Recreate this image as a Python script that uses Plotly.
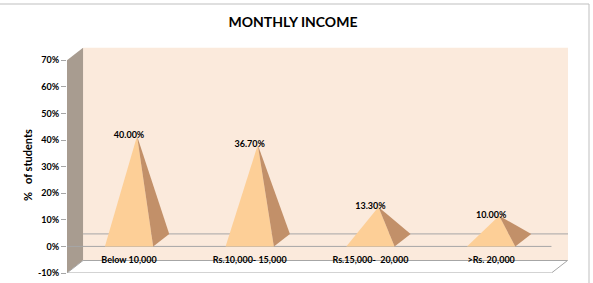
import plotly.graph_objects as go

# ---- data ----
categories = ["Below 10,000", "Rs.10,000- 15,000", "Rs.15,000-\u00a0 20,000", ">Rs. 20,000"]
percent_students = [40.0, 36.7, 13.3, 10.0]
data_labels = ["40.00%", "36.70%", "13.30%", "10.00%"]
y_ticks = [-10, 0, 10, 20, 30, 40, 50, 60, 70]
y_tick_text = ["-10%", "0%", "10%", "20%", "30%", "40%", "50%", "60%", "70%"]

# ---- 3D projection parameters (axis units) ----
DX = 0.133      # depth offset along x (category units)
DY = 4.7        # depth offset along y (% units)
HW = 0.20       # half width of pyramid base
APEX_OFF = 1.5  # apex raise due to perspective
X_LEFT = -0.514
X_FRONT_RIGHT = 3.50
X_RANGE = [X_LEFT, 3.637]
Y_RANGE = [-10, 75]

FRONT_COL = "#FDCF97"
SIDE_COL = "#C29069"
WALL_COL = "#FBEADC"
SIDEWALL_COL = "#A89C90"
LINE_COL = "#A6A6A6"
FONT = "Lato"

fig = go.Figure()

# pyramids
for i, v in enumerate(percent_students):
    ax = i + DX / 2
    ay = v + APEX_OFF
    # front face
    fig.add_trace(go.Scatter(
        x=[i - HW, i + HW, ax, i - HW], y=[0, 0, ay, 0],
        mode="lines", fill="toself", fillcolor=FRONT_COL,
        line=dict(width=0), hoverinfo="skip", showlegend=False))
    # right face
    fig.add_trace(go.Scatter(
        x=[i + HW, i + HW + DX, ax, i + HW], y=[0, DY, ay, 0],
        mode="lines", fill="toself", fillcolor=SIDE_COL,
        line=dict(width=0), hoverinfo="skip", showlegend=False))

# data labels
fig.add_trace(go.Scatter(
    x=list(range(len(categories))), y=percent_students,
    text=[f"<b>{t}</b>" for t in data_labels],
    mode="text", textposition="top center",
    textfont=dict(family=FONT, size=9, color="#000000"),
    hoverinfo="skip", showlegend=False))

# category labels on the floor
fig.add_trace(go.Scatter(
    x=list(range(len(categories))), y=[-10 + DY] * len(categories),
    text=[f"<b>{c}</b>" for c in categories],
    mode="text", textposition="middle center",
    textfont=dict(family=FONT, size=9, color="#000000"),
    hoverinfo="skip", showlegend=False))

shapes = []
# back wall
shapes.append(dict(type="path", xref="x", yref="y", layer="below",
                   path=f"M {X_LEFT+DX},{-10+DY} L {X_RANGE[1]},{-10+DY} L {X_RANGE[1]},{70+DY} L {X_LEFT+DX},{70+DY} Z",
                   fillcolor=WALL_COL, line=dict(width=0)))
# side wall
shapes.append(dict(type="path", xref="x", yref="y", layer="below",
                   path=f"M {X_LEFT},-10 L {X_LEFT},70 L {X_LEFT+DX},{70+DY} L {X_LEFT+DX},{-10+DY} Z",
                   fillcolor=SIDEWALL_COL, line=dict(width=0)))
# floor
shapes.append(dict(type="path", xref="x", yref="y", layer="below",
                   path=f"M {X_LEFT},-10 L {X_FRONT_RIGHT},-10 L {X_FRONT_RIGHT+DX},{-10+DY} L {X_LEFT+DX},{-10+DY} Z",
                   fillcolor="#FFFFFF", line=dict(color=LINE_COL, width=1)))
# zero plane lines
shapes.append(dict(type="line", xref="x", yref="y", layer="below",
                   x0=X_LEFT, y0=0, x1=X_FRONT_RIGHT, y1=0, line=dict(color=LINE_COL, width=1)))
shapes.append(dict(type="line", xref="x", yref="y", layer="below",
                   x0=X_LEFT + DX, y0=DY, x1=X_RANGE[1], y1=DY, line=dict(color=LINE_COL, width=1)))
# chart border
shapes.append(dict(type="rect", xref="paper", yref="paper",
                   x0=-0.2, y0=-0.2, x1=(589 - 67) / 501, y1=(273 - 4) / 226,
                   line=dict(color="#BFBFBF", width=1), fillcolor="rgba(0,0,0,0)"))

fig.update_layout(
    width=593, height=283,
    margin=dict(l=67, r=25, t=47, b=10, autoexpand=False),
    paper_bgcolor="#FFFFFF", plot_bgcolor="rgba(0,0,0,0)",
    shapes=shapes,
    title=dict(text="<b>MONTHLY INCOME</b>", x=293 / 593, xanchor="center",
               y=1 - 22 / 283, yanchor="middle", yref="container",
               font=dict(family=FONT, size=14, color="#000000")),
    xaxis=dict(range=X_RANGE, showgrid=False, zeroline=False, showticklabels=False,
               showline=False, ticks="", automargin=False),
    yaxis=dict(range=Y_RANGE, showgrid=False, zeroline=False, showline=False,
               tickvals=y_ticks, ticktext=[f"<b>{t}</b>" for t in y_tick_text],
               ticks="outside", ticklen=5, automargin=False,
               tickcolor=LINE_COL, tickfont=dict(family=FONT, size=9, color="#000000")),
    annotations=[dict(text="<b>%\u00a0\u00a0\u00a0of students</b>", textangle=-90,
                      xref="paper", yref="paper", x=(27 - 67) / 501, y=(273 - 165) / 226,
                      xanchor="center", yanchor="middle", showarrow=False,
                      font=dict(family=FONT, size=11, color="#000000"))],
)

fig.write_html("out.html")
